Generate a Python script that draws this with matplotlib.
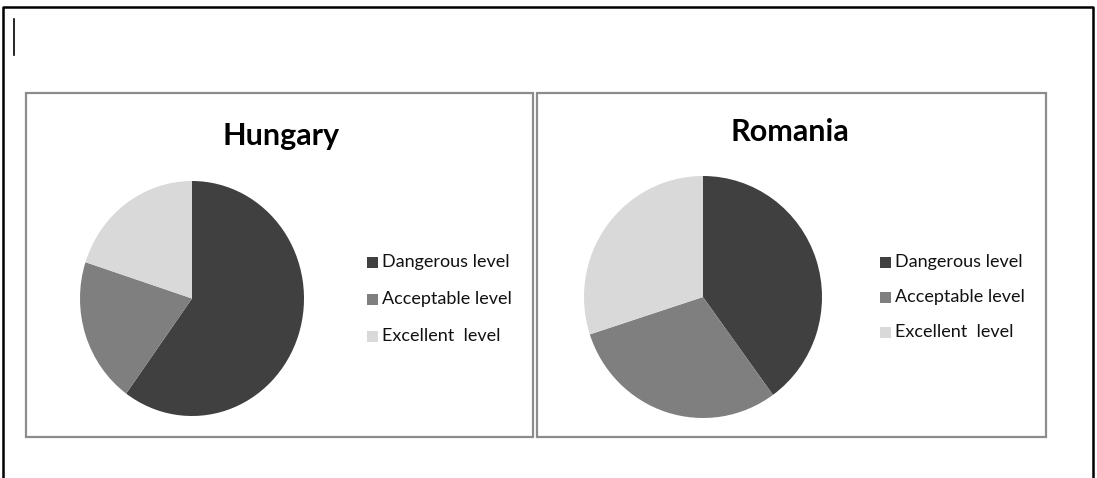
import matplotlib
matplotlib.use("Agg")
import matplotlib.pyplot as plt
from matplotlib.patches import Rectangle
from matplotlib.lines import Line2D

countries = ["Hungary", "Romania"]
categories = ["Dangerous level", "Acceptable level", "Excellent  level"]
hungary_values = [60, 20, 20]
romania_values = [40, 30, 30]
colors = ["#404040", "#7f7f7f", "#d9d9d9"]

W, H = 1097, 478
fig = plt.figure(figsize=(W / 100, H / 100), dpi=100)
fig.patch.set_facecolor("white")
FONT = ["Lato", "DejaVu Sans"]


def fx(x):
    return x / W


def fy(y):
    return 1 - y / H


def add_rect(x0, y0, x1, y1, color, lw):
    fig.add_artist(Rectangle((fx(x0), fy(y1)), fx(x1) - fx(x0), fy(y0) - fy(y1),
                             transform=fig.transFigure, fill=False,
                             edgecolor=color, linewidth=lw))


def add_line(xs, ys, color, lw):
    fig.add_artist(Line2D([fx(x) for x in xs], [fy(y) for y in ys],
                          transform=fig.transFigure, color=color, linewidth=lw))


# outer page border
add_line([3, 3, 1093, 1093], [480, 7, 7, 480], "black", 1.8)
# cursor
add_line([14, 14], [19, 55], "black", 1.2)

panels = [
    dict(box=(26, 93, 533, 437), pie=(80, 181, 304, 416), title_xy=(281, 136),
         leg_x=372, leg_text_x=382, leg_y=[262, 299, 336], values=hungary_values),
    dict(box=(537, 93, 1046, 437), pie=(584, 176, 822, 418), title_xy=(790, 132),
         leg_x=885, leg_text_x=895, leg_y=[262, 297, 332], values=romania_values),
]

for name, p in zip(countries, panels):
    add_rect(*p["box"], "#8c8c8c", 1.6)
    x0, y0, x1, y1 = p["pie"]
    ax = fig.add_axes([fx(x0), fy(y1), fx(x1) - fx(x0), fy(y0) - fy(y1)])
    ax.pie(p["values"], colors=colors, startangle=90, counterclock=False,
           wedgeprops=dict(linewidth=0))
    ax.set_aspect("auto")
    ax.set_xlim(-1, 1)
    ax.set_ylim(-1, 1)
    ax.axis("off")
    tx, ty = p["title_xy"]
    fig.text(fx(tx), fy(ty), name, ha="center", va="center", fontsize=22,
             fontweight="bold", family=FONT)
    for cat, col, ly in zip(categories, colors, p["leg_y"]):
        fig.add_artist(Rectangle((fx(p["leg_x"] - 5.5), fy(ly + 5.5)), fx(11), fy(0) - fy(11),
                                 transform=fig.transFigure, facecolor=col,
                                 edgecolor="none"))
        fig.text(fx(p["leg_text_x"]), fy(ly), cat, ha="left", va="center",
                 fontsize=13, family=FONT, color="#111111")

fig.savefig("out.png", dpi=100, facecolor="white")
